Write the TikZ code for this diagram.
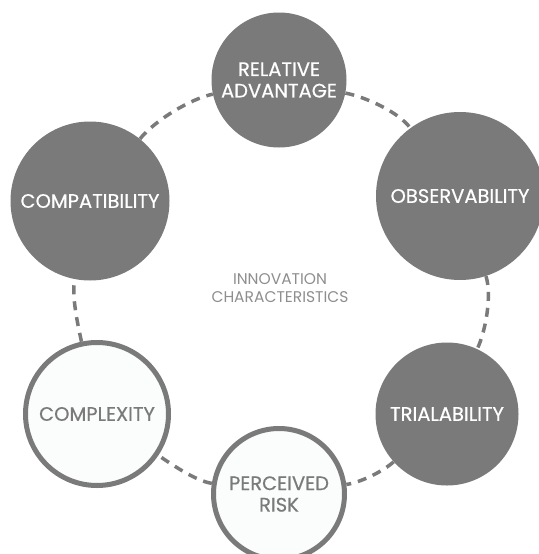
\documentclass[tikz,border=0pt]{standalone}
\usepackage{fontspec}
\setmainfont{Poppins}
\newfontfamily\traitfont{Poppins}[FakeBold=0.5]
\usetikzlibrary{backgrounds}

\definecolor{discgray}{HTML}{7A7A7A}
\definecolor{softgray}{HTML}{8E8E8E}
\definecolor{paper}{HTML}{FBFCFC}

\begin{document}
\begin{tikzpicture}[x=1pt,y=-1pt,
    trait/.style={circle,inner sep=0pt,fill=discgray,text=white,align=center,
        font=\traitfont\fontsize{19.5}{21.5}\selectfont},
    open trait/.style={trait,fill=paper,draw=discgray,line width=5pt,text=discgray},
    link/.style={draw=discgray,line width=3.5pt,dash pattern=on 9pt off 7pt,looseness=0.7}]

    \useasboundingbox (0,0) rectangle (538,554);

    \node [trait,minimum size=135pt] (relative) at (279,80) {RELATIVE\\ADVANTAGE};
    \node [trait,minimum size=168pt] (observ) at (460,196) {OBSERVABILITY};
    \node [trait,minimum size=143pt] (trial) at (447,414) {TRIALABILITY};
    \node [open trait,minimum size=131pt] (risk) at (279,494) {PERCEIVED\\RISK};
    \node [open trait,minimum size=143pt] (complex) at (97,414) {COMPLEXITY};
    \node [trait,minimum size=159pt] (compat) at (90,201) {COMPATIBILITY};

    \node [text=softgray,align=center,font=\fontsize{15.5}{17.5}\selectfont] (theme) at (280,288)
        {INNOVATION\\CHARACTERISTICS};

    \begin{scope}[on background layer]
        \draw [link] (relative) to[out=-11.6,in=126.9] (observ);
        \draw [link] (observ) to[out=-72.3,in=65.2] (trial);
        \draw [link] (trial) to[out=-138.8,in=8.4] (risk);
        \draw [link] (risk) to[out=171,in=-34] (complex);
        \draw [link] (complex) to[out=102.6,in=-101.4] (compat);
        \draw [link] (compat) to[out=51.8,in=192.2] (relative);
    \end{scope}

\end{tikzpicture}
\end{document}
